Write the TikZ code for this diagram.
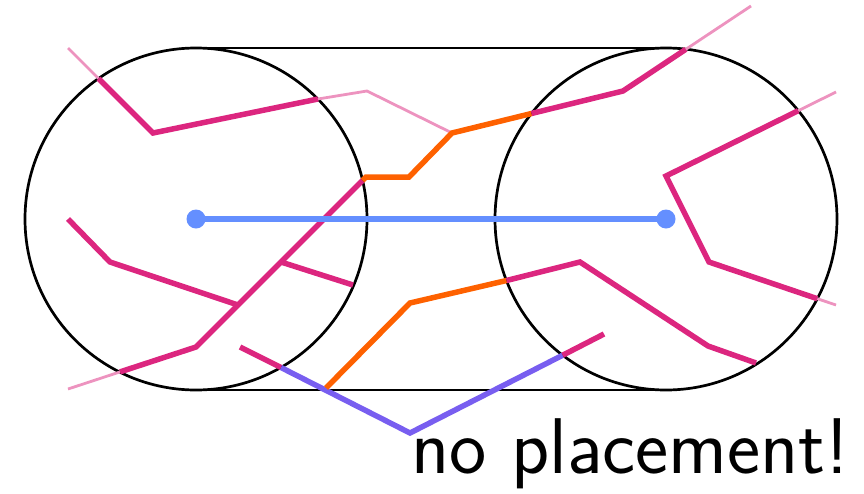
\documentclass[tikz,border=0pt]{standalone}
\definecolor{cmag}{HTML}{DC267F}
\definecolor{corg}{HTML}{FE6100}
\definecolor{cblu}{HTML}{648FFF}
\definecolor{cpur}{HTML}{785EF0}
\begin{document}
\begin{tikzpicture}[x=1pt,y=-1pt,
  outline/.style={black,line width=2.7pt},
  mag/.style={cmag,line width=5.5pt},
  faint/.style={cmag!50,line width=2.8pt},
  org/.style={corg,line width=5.5pt},
  pur/.style={cpur,line width=5.5pt},
  blu/.style={cblu,line width=5.5pt},
  dot/.style={circle,fill=cblu,inner sep=0pt,minimum size=19pt}]
\useasboundingbox (0,0) rectangle (864,493);
% stadium
\coordinate (lc) at (196,219);
\coordinate (rc) at (666,219);
\draw[outline] (lc) circle[radius=171pt];
\draw[outline] (rc) circle[radius=171pt];
\draw[outline] (196,48) -- (666,48);
\draw[outline] (196,390) -- (666,390);
% path 1
\coordinate (a0) at (68,48);
\coordinate (a1) at (98.5,78.5);
\coordinate (a2) at (153,133);
\coordinate (a3) at (318,99);
\coordinate (a4) at (367,91);
\coordinate (a5) at (452,133);
\draw[faint] (a0) -- (a1);
\draw[mag] (a1) -- (a2) -- (a3);
\draw[faint] (a3) -- (a4) -- (a5);
% path 2
\coordinate (b0) at (68,389);
\coordinate (b1) at (120,371.9);
\coordinate (b2) at (196,347);
\coordinate (b3) at (362.5,180.5);
\coordinate (b4) at (366,177);
\coordinate (b5) at (409,177);
\coordinate (b6) at (452,133);
\coordinate (b7) at (531.5,113.5);
\coordinate (b8) at (623,91);
\coordinate (b9) at (685.8,49.3);
\coordinate (b10) at (751,6);
\draw[faint] (b0) -- (b1);
\draw[mag] (b1) -- (b2) -- (b3);
\draw[org] (b3) -- (b4) -- (b5) -- (b6) -- (b7);
\draw[mag] (b7) -- (b8) -- (b9);
\draw[faint] (b9) -- (b10);
% path 3
\coordinate (c0) at (68,219);
\coordinate (c1) at (110,262);
\coordinate (c2) at (238,305);
\draw[mag] (c0) -- (c1) -- (c2);
% path 4
\coordinate (d0) at (281,262);
\coordinate (d1) at (353,285);
\draw[mag] (d0) -- (d1);
% path 5
\coordinate (e0) at (240,347);
\coordinate (e1) at (281,367.5);
\coordinate (e2) at (410,433);
\coordinate (e3) at (562.7,355.2);
\coordinate (e4) at (604,334);
\draw[mag] (e0) -- (e1);
\draw[pur] (e1) -- (e2) -- (e3);
\draw[mag] (e3) -- (e4);
% path 6
\coordinate (f0) at (326,388);
\coordinate (f1) at (410,303);
\coordinate (f2) at (506.5,280.5);
\coordinate (f3) at (580,262);
\coordinate (f4) at (708,346);
\coordinate (f5) at (756,363);
\draw[org] (f0) -- (f1) -- (f2);
\draw[mag] (f2) -- (f3) -- (f4) -- (f5);
% path 7
\coordinate (g0) at (836,92);
\coordinate (g1) at (798.2,110.7);
\coordinate (g2) at (666,176);
\coordinate (g3) at (709,262);
\coordinate (g4) at (817.3,298.7);
\coordinate (g5) at (836,305);
\draw[faint] (g0) -- (g1);
\draw[mag] (g1) -- (g2) -- (g3) -- (g4);
\draw[faint] (g4) -- (g5);
% blue
\draw[blu] (lc) -- (rc);
\node[dot] (ld) at (lc) {};
\node[dot] (rd) at (rc) {};
% label
\node[anchor=base west,inner sep=0pt,font=\fontsize{79}{90}\selectfont\sffamily] (lbl) at (411,473.5) {no placement!};
\end{tikzpicture}
\end{document}
